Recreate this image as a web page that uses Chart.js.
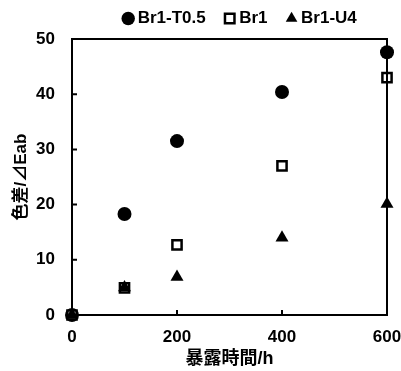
<!DOCTYPE html>
<html><head><meta charset="utf-8">
<script src="https://cdn.jsdelivr.net/npm/chart.js@4"></script>
<style>html,body{margin:0;padding:0;background:#fff}#wrap{width:401px;height:371px}</style>
</head><body><div id="wrap"><canvas id="c" width="401" height="371"></canvas></div>
<script>
const hours = [0, 100, 200, 400, 600];
const seriesNames = ['Br1-T0.5', 'Br1', 'Br1-U4'];
const t05 = [0, 18.3, 31.5, 40.4, 47.6];
const br1 = [0, 4.9, 12.7, 27.0, 43.0];
const u4 = [0, 5.0, 6.9, 14.0, 20.1];
const xTicks = [0, 200, 400, 600];
const yTicks = [0, 10, 20, 30, 40, 50];
const FONT = "'Liberation Sans', Arial, 'Noto Sans CJK JP', sans-serif";

const frame = {
  id: 'frame',
  beforeDraw(chart) {
    const lg = chart.legend;
    if (lg && !lg._shifted) { lg.left += 43; lg.right += 43; lg.top -= 13; lg.bottom -= 13; lg._shifted = true; }
  },
  afterDatasetsDraw(chart) {
    const {ctx, chartArea: a, scales} = chart;
    ctx.save();
    ctx.strokeStyle = '#000';
    ctx.lineWidth = 2;
    ctx.strokeRect(a.left, a.top, a.right - a.left, a.bottom - a.top);
    ctx.beginPath();
    for (const v of yTicks) {
      const y = scales.y.getPixelForValue(v);
      ctx.moveTo(a.left, y); ctx.lineTo(a.left + 5, y);
    }
    for (const v of xTicks) {
      const x = scales.x.getPixelForValue(v);
      ctx.moveTo(x, a.bottom); ctx.lineTo(x, a.bottom - 5);
    }
    ctx.stroke();
    ctx.restore();
  }
};

const mk = (arr) => hours.map((h, i) => ({x: h, y: arr[i]}));

new Chart(document.getElementById('c'), {
  type: 'scatter',
  data: {
    datasets: [
      {label: seriesNames[0], data: mk(t05), pointStyle: 'circle', pointRadius: 7, backgroundColor: '#000', borderColor: '#000', borderWidth: 0, order: 2, clip: false},
      {label: seriesNames[1], data: mk(br1), pointStyle: 'rect', pointRadius: 6.5, backgroundColor: '#fff', borderColor: '#000', borderWidth: 2.5, order: 1, clip: false},
      {label: seriesNames[2], data: mk(u4), pointStyle: 'triangle', pointRadius: 7.5, backgroundColor: '#000', borderColor: '#000', borderWidth: 0, order: 0, clip: false}
    ]
  },
  options: {
    responsive: false,
    animation: false,
    devicePixelRatio: 1,
    layout: {padding: {left: 11, right: 14, top: 0, bottom: 0}},
    plugins: {
      tooltip: {enabled: false},
      legend: {
        position: 'top',
        maxHeight: 39,
        labels: {
          usePointStyle: true,
          boxWidth: 2, boxHeight: 9.5,
          padding: 23,
          color: '#000',
          font: {family: FONT, size: 17, weight: 'bold'},
          sort: (a, b) => a.datasetIndex - b.datasetIndex
        }
      }
    },
    scales: {
      x: {
        type: 'linear', min: 0, max: 600,
        afterBuildTicks: s => { s.ticks = xTicks.map(v => ({value: v})); },
        grid: {display: false, drawTicks: false},
        border: {display: false},
        ticks: {color: '#000', padding: 12, font: {family: FONT, size: 17, weight: 'bold'}},
        title: {display: true, text: '暴露時間/h', color: '#000', padding: {top: 4, bottom: 1}, font: {family: FONT, size: 18, weight: 'bold'}},
        afterFit: s => { s.height = 56; s.paddingLeft = 0; s.paddingRight = 0; }
      },
      y: {
        type: 'linear', min: 0, max: 50,
        afterBuildTicks: s => { s.ticks = yTicks.map(v => ({value: v})); },
        grid: {display: false, drawTicks: false},
        border: {display: false},
        ticks: {color: '#000', padding: 17, font: {family: FONT, size: 17, weight: 'bold'}},
        title: {display: true, text: '色差/⊿Eab', color: '#000', padding: {top: 0, bottom: 4}, font: {family: FONT, size: 17, weight: 'bold'}},
        afterFit: s => { s.width = 61; s.paddingTop = 0; s.paddingBottom = 0; }
      }
    }
  },
  plugins: [frame]
});
</script></body></html>
